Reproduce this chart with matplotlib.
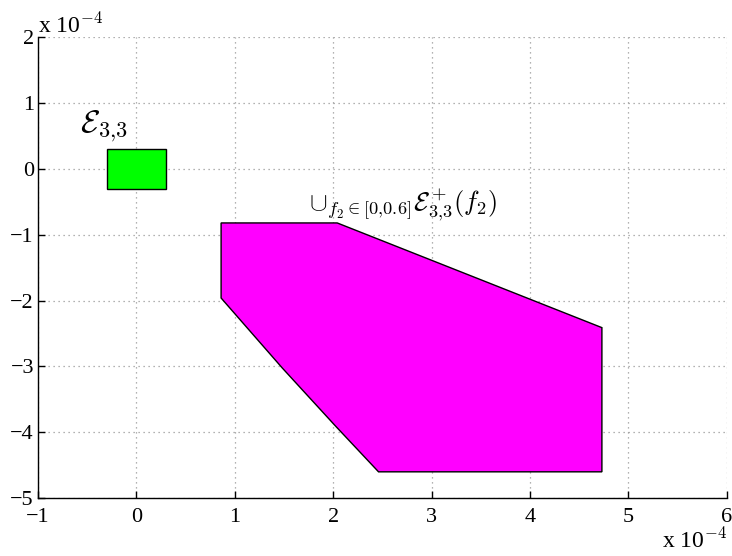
import matplotlib
matplotlib.use("Agg")
import matplotlib.pyplot as plt
from matplotlib.patches import Polygon

plt.rcParams['font.family'] = ['Liberation Serif', 'DejaVu Serif']
plt.rcParams['mathtext.fontset'] = 'cm'

# data in units of 1e-4
box_x = [-0.3, 0.3, 0.3, -0.3]
box_y = [-0.3, -0.3, 0.3, 0.3]

poly_x = [0.86, 2.04, 4.73, 4.73, 2.46, 2.02, 1.48, 0.86]
poly_y = [-0.82, -0.82, -2.41, -4.60, -4.60, -3.9, -3.02, -1.96]

xticks = [-1, 0, 1, 2, 3, 4, 5, 6]
yticks = [-5, -4, -3, -2, -1, 0, 1, 2]

fig = plt.figure(figsize=(7.32, 5.56), dpi=100)
ax = fig.add_axes([0.052, 0.104, 0.941, 0.829])

ax.add_patch(Polygon(list(zip(box_x, box_y)), closed=True,
                     facecolor='#00ff00', edgecolor='black', linewidth=1.0))
ax.add_patch(Polygon(list(zip(poly_x, poly_y)), closed=True,
                     facecolor='#ff00ff', edgecolor='black', linewidth=1.0))

ax.text(-0.57, 0.56, r'$\mathcal{E}_{3{,}3}$', fontsize=23)
ax.text(1.75, -0.63, r'$\cup_{f_2\in[0{,}0.6]}\mathcal{E}^+_{3{,}3}(f_2)$', fontsize=19)

ax.set_xlim(-1, 6)
ax.set_ylim(-5, 2)
ax.set_xticks(xticks)
ax.set_yticks(yticks)
ax.tick_params(direction='in', labelsize=16, length=5, width=1)
ax.tick_params(axis='x', pad=7)
ax.tick_params(axis='y', pad=3)
ax.grid(True, linestyle=(0, (1, 3)), color='#999999', linewidth=0.9)
ax.set_axisbelow(True)

for s in ['top', 'right']:
    ax.spines[s].set_visible(False)
ax.spines['left'].set_linewidth(1.0)
ax.spines['bottom'].set_linewidth(1.0)

fig.text(0.052, 0.941, r'x 10$^{-4}$', fontsize=17, ha='left', va='baseline')
fig.text(0.993, 0.0144, r'x 10$^{-4}$', fontsize=17, ha='right', va='baseline')

fig.savefig("out.png", dpi=100)
